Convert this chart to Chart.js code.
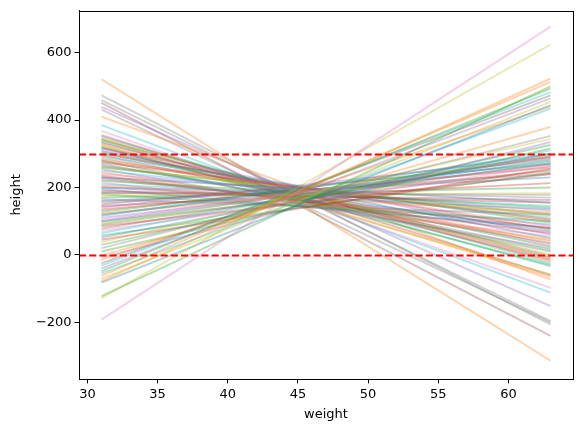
<!DOCTYPE html>
<html>
<head>
<meta charset="utf-8">
<script src="https://cdn.jsdelivr.net/npm/chart.js@4/dist/chart.umd.min.js"></script>
<style>
html,body{margin:0;padding:0;background:#fff;}
canvas{display:block;}
</style>
</head>
<body>
<canvas id="c" width="584" height="433"></canvas>
<script>
// weights at which each prior line is evaluated
const weights = [31, 63];
// height of each line at weight 31
const heightAtStart = [
  -192, -128, -122, -82, -78, -70, -62, -55, -48, -40,
  -32, -25, -15, -8, -2, 10, 20, 30, 38, 45,
  52, 58, 65, 72, 78, 85, 92, 98, 104, 110,
  116, 122, 128, 134, 140, 90, 120, 145, 100, 150,
  165, 175, 180, 184, 190, 195, 200, 205, 210, 215,
  220, 225, 230, 235, 240, 245, 250, 255, 260, 265,
  270, 275, 280, 284, 288, 292, 296, 300, 304, 308,
  312, 316, 200, 230, 260, 280, 320, 324, 328, 332,
  336, 340, 343, 318, 345, 350, 410, 368, 385, 439,
  473, 459, 451, 521, 431, 355, 160, 170, 155, 185
];
// height of each line at weight 63
const heightAtEnd = [
  677, 624, 500, 444, 523, 454, 513, 434, 493, 464,
  483, 473, 440, 335, 380, 316, 353, 326, 344, 256,
  300, 244, 310, 264, 292, 240, 296, 252, 288, 268,
  300, 248, 284, 260, 290, 272, 276, 213, 280, 270,
  120, 183, 100, 163, 155, 80, 170, 125, 145, 55,
  140, 90, 155, 65, 130, 45, 110, 20, 115, 70,
  35, 105, 10, 85, 40, 95, 15, 75, 25, 50,
  30, 60, 135, 80, 120, 100, -30, 0, -58, -10,
  -34, -5, -65, -15, -20, -25, -73, -98, -112, -152,
  -206, -196, -240, -314, -200, -60, 230, 200, 240, 178
];
const xTicks = [30, 35, 40, 45, 50, 55, 60];
const yTicks = [-200, 0, 200, 400, 600];
const refLines = [0, 300];

// styling
const tab10 = ['31,119,180','255,127,14','44,160,44','214,39,40','148,103,189',
               '140,86,75','227,119,194','127,127,127','188,189,34','23,190,207'];
const colorIdx = [
  6,8,2,0,1,8,1,9,2,4, 9,5,1,4,1,2,7,2,8,3,
  0,2,9,6,5,3,8,7,6,4, 0,1,2,3,4,2,9,3,0,5,
  7,8,2,5,3,0,4,1,9,6, 2,7,0,3,6,1,9,4,8,0,
  5,3,2,6,1,9,7,3,2,0, 6,4,0,3,2,1,2,1,8,3,
  9,2,1,5,1,9,1,6,9,4, 7,7,5,1,7,3,0,2,4,7
];
const FONT = {family: 'DejaVu Sans', size: 13};

const datasets = heightAtStart.map((h0, i) => ({
  data: [{x: weights[0], y: h0}, {x: weights[1], y: heightAtEnd[i]}],
  borderColor: 'rgba(' + tab10[colorIdx[i]] + ',0.35)',
  borderWidth: 1.9,
  pointRadius: 0,
  tension: 0,
  fill: false
}));

const framePlugin = {
  id: 'frame',
  afterDatasetsDraw(chart) {
    const {ctx, chartArea: a, scales} = chart;
    ctx.save();
    ctx.strokeStyle = '#ff0000';
    ctx.lineWidth = 1.9;
    ctx.setLineDash([7.1, 3.1]);
    refLines.forEach(v => {
      const y = Math.round(scales.y.getPixelForValue(v)) + 0.5;
      ctx.beginPath();
      ctx.moveTo(a.left, y);
      ctx.lineTo(a.right, y);
      ctx.stroke();
    });
    ctx.setLineDash([]);
    ctx.strokeStyle = '#000';
    ctx.lineWidth = 1;
    ctx.strokeRect(Math.round(a.left) + 0.5, Math.round(a.top) + 0.5,
                   Math.round(a.right - a.left), Math.round(a.bottom - a.top));
    ctx.restore();
  }
};

new Chart(document.getElementById('c'), {
  type: 'line',
  data: {datasets},
  plugins: [framePlugin],
  options: {
    responsive: false,
    animation: false,
    devicePixelRatio: 1,
    layout: {padding: {left: 0, top: 10, right: 11, bottom: 0}},
    plugins: {legend: {display: false}, tooltip: {enabled: false}},
    scales: {
      x: {
        type: 'linear',
        min: 29.4, max: 64.6,
        afterBuildTicks: s => { s.ticks = xTicks.map(v => ({value: v})); },
        afterFit: s => { s.height = 54; },
        ticks: {font: FONT, color: '#000', padding: 3, maxRotation: 0, autoSkip: false},
        grid: {display: true, drawOnChartArea: false, drawTicks: true, tickLength: 4.4, color: '#000', tickWidth: 1},
        border: {display: true, color: '#000', width: 1},
        title: {display: true, text: 'weight', font: FONT, color: '#000', padding: {top: 2, bottom: 11}}
      },
      y: {
        type: 'linear',
        min: -368, max: 724,
        afterBuildTicks: s => { s.ticks = yTicks.map(v => ({value: v})); },
        afterFit: s => { s.width = 79; },
        ticks: {font: FONT, color: '#000', padding: 3,
                callback: v => (v < 0 ? '\u2212' + Math.abs(v) : String(v))},
        grid: {display: true, drawOnChartArea: false, drawTicks: true, tickLength: 4.4, color: '#000', tickWidth: 1},
        border: {display: true, color: '#000', width: 1},
        title: {display: true, text: 'height', font: FONT, color: '#000', padding: {top: 9, bottom: 0}}
      }
    }
  }
});
</script>
</body>
</html>
